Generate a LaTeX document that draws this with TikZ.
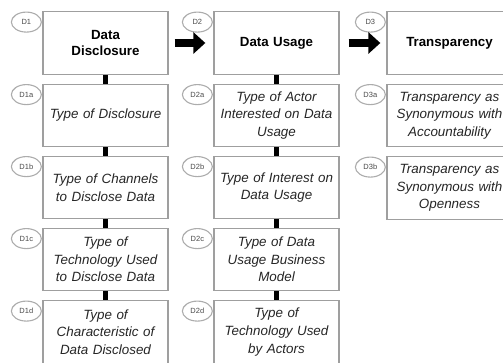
\documentclass[tikz,border=0pt]{standalone}
\usepackage{fontspec}
\setmainfont{Liberation Sans}
\usetikzlibrary{shapes.geometric,arrows.meta,calc}
\begin{document}
\begin{tikzpicture}[x=1pt,y=-1pt,
 box/.style={draw=gray!75, line width=1.3pt, minimum width=125pt, minimum height=62.5pt, inner sep=2pt, text width=121pt, align=center, fill=white},
 titlebox/.style={box, font=\fontsize{13.3}{16.5}\selectfont\bfseries},
 itembox/.style={box, font=\fontsize{13.4}{17.6}\selectfont\itshape, text=black!85},
 tag/.style={draw=gray!65, line width=1.1pt, ellipse, minimum width=30pt, minimum height=20pt, inner sep=0pt, font=\fontsize{7.5}{8}\selectfont, text=gray!60!black, fill=white},
 link/.style={line width=5pt, draw=black},
 bigarrow/.style={line width=8.5pt, draw=black, -{Triangle[length=12pt,width=21pt]}}
]
\path[use as bounding box, clip] (0,0) rectangle (503,363);

% column 1
\node[titlebox] (D1)  at (105.5,43)    {Data\\Disclosure};
\node[itembox]  (D1a) at (105.5,115.5) {Type of Disclosure};
\node[itembox]  (D1b) at (105.5,187.5) {Type of Channels\\to Disclose Data};
\node[itembox]  (D1c) at (105.5,259.5) {Type of\\Technology Used\\to Disclose Data};
\node[itembox]  (D1d) at (105.5,332)   {Type of\\Characteristic of\\Data Disclosed};

% column 2
\node[titlebox] (D2)  at (276.5,43)    {Data Usage};
\node[itembox]  (D2a) at (276.5,115.5) {Type of Actor\\Interested on Data\\Usage};
\node[itembox]  (D2b) at (276.5,187.5) {Type of Interest on\\Data Usage};
\node[itembox]  (D2c) at (276.5,259.5) {Type of Data\\Usage Business\\Model};
\node[itembox]  (D2d) at (276.5,332)   {Type of\\Technology Used\\by Actors};

% column 3
\node[titlebox] (D3)  at (449.5,43)    {Transparency};
\node[itembox]  (D3a) at (449.5,115.5) {Transparency as\\Synonymous with\\Accountability};
\node[itembox]  (D3b) at (449.5,188)   {Transparency as\\Synonymous with\\Openness};

% tags
\foreach \n in {D1,D1a,D1b,D1c,D1d,D2,D2a,D2b,D2c,D2d,D3,D3a,D3b}{
  \node[tag] (t\n) at ($(\n.north west)+(-16,11)$) {\n};
}

% vertical links
\draw[link] (D1.south)  -- (D1a.north);
\draw[link] (D1a.south) -- (D1b.north);
\draw[link] (D1b.south) -- (D1c.north);
\draw[link] (D1c.south) -- (D1d.north);
\draw[link] (D2.south)  -- (D2a.north);
\draw[link] (D2a.south) -- (D2b.north);
\draw[link] (D2b.south) -- (D2c.north);
\draw[link] (D2c.south) -- (D2d.north);

% big arrows
\draw[bigarrow, shorten <=6pt, shorten >=8pt] (D1.east) -- (D2.west);
\draw[bigarrow, shorten <=9pt, shorten >=6pt] (D2.east) -- (D3.west);
\end{tikzpicture}
\end{document}
